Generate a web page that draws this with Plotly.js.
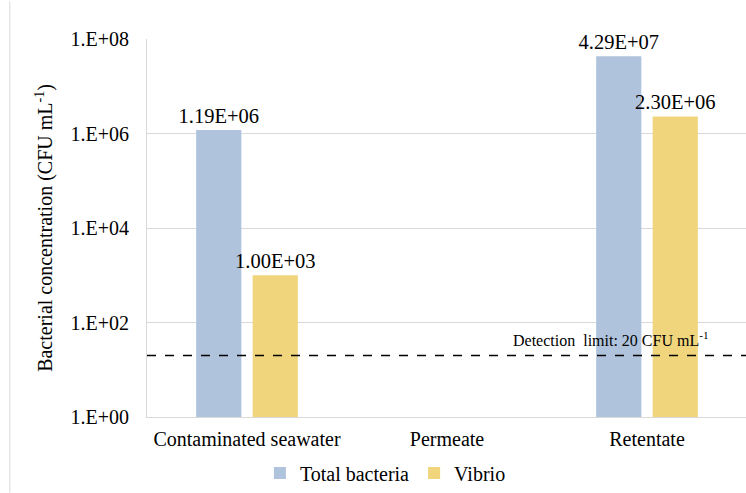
<!DOCTYPE html>
<html>
<head>
<meta charset="utf-8">
<script src="https://cdn.plot.ly/plotly-3.0.1.min.js"></script>
<style>html,body{margin:0;padding:0;background:#fff;}#chart{width:746px;height:493px;}</style>
</head>
<body>
<div id="chart"></div>
<script>
const categories = ["Contaminated seawater", "Permeate", "Retentate"];
const totalBacteria = [1.19e6, null, 4.29e7];
const vibrio = [1.00e3, null, 2.30e6];
const totalLabels = ["1.19E+06", "", "4.29E+07"];
const vibrioLabels = ["1.00E+03", "", "2.30E+06"];
const seriesNames = ["Total bacteria", "Vibrio"];
const tickVals = [1, 1e2, 1e4, 1e6, 1e8];
const tickText = ["1.E+00", "1.E+02", "1.E+04", "1.E+06", "1.E+08"];
const detectionLimit = 20;
const detectionText = "Detection  limit: 20 CFU mL<sup>-1</sup>";

const font = "Liberation Serif";

const traces = [
  {type: "bar", name: seriesNames[0], x: categories, y: totalBacteria,
   text: totalLabels, textposition: "outside", cliponaxis: false, constraintext: "none",
   textfont: {family: font, size: 20.5, color: "#000"},
   marker: {color: "#b0c3dc"}, hoverinfo: "skip"},
  {type: "bar", name: seriesNames[1], x: categories, y: vibrio,
   text: vibrioLabels, textposition: "outside", cliponaxis: false, constraintext: "none",
   textfont: {family: font, size: 20.5, color: "#000"},
   marker: {color: "#f1d57c"}, hoverinfo: "skip"},
  {type: "scatter", mode: "lines", x: [0, 1], y: [detectionLimit, detectionLimit],
   xaxis: "x2", yaxis: "y", showlegend: false, hoverinfo: "skip",
   line: {color: "#000", width: 1.5, dash: "dash"}}
];

const layout = {
  width: 746, height: 493,
  margin: {l: 147, r: 0, t: 39, b: 71},
  paper_bgcolor: "#fff", plot_bgcolor: "#fff",
  font: {family: font, size: 20, color: "#000"},
  barmode: "group", bargap: 0.435, bargroupgap: 0.2,
  showlegend: true,
  legend: {orientation: "h", x: 0.398, xanchor: "center", y: -0.148, yanchor: "middle",
           font: {family: font, size: 20, color: "#000"}, tracegroupgap: 0},
  xaxis: {type: "category", range: [-0.5, 2.495], showgrid: false,
          showline: true, linecolor: "#d9d9d9", linewidth: 1,
          ticks: "", tickfont: {family: font, size: 20}, ticklabelstandoff: 4, fixedrange: true},
  xaxis2: {overlaying: "x", range: [0, 1], visible: false, fixedrange: true},
  yaxis: {type: "log", range: [0, 8], tickvals: tickVals, ticktext: tickText,
          showgrid: true, gridcolor: "#d9d9d9", gridwidth: 1,
          showline: true, linecolor: "#d9d9d9", linewidth: 1, zeroline: false,
          ticks: "", ticklabelstandoff: 13, tickfont: {family: font, size: 20},
          title: {text: "Bacterial concentration (CFU mL<sup>-1</sup>)", font: {family: font, size: 20}, standoff: 12},
          fixedrange: true},
  annotations: [
    {xref: "paper", yref: "y", x: 0.775, y: Math.log10(detectionLimit), yshift: 17,
     text: detectionText, showarrow: false, xanchor: "center", yanchor: "middle",
     font: {family: font, size: 16, color: "#000"}}
  ],
  shapes: [
    {type: "line", xref: "paper", yref: "paper", x0: -0.229, x1: -0.229, y0: -0.2, y1: 1.1,
     line: {color: "#d9d9d9", width: 1}}
  ]
};

Plotly.newPlot("chart", traces, layout, {displayModeBar: false, staticPlot: true});
</script>
</body>
</html>
